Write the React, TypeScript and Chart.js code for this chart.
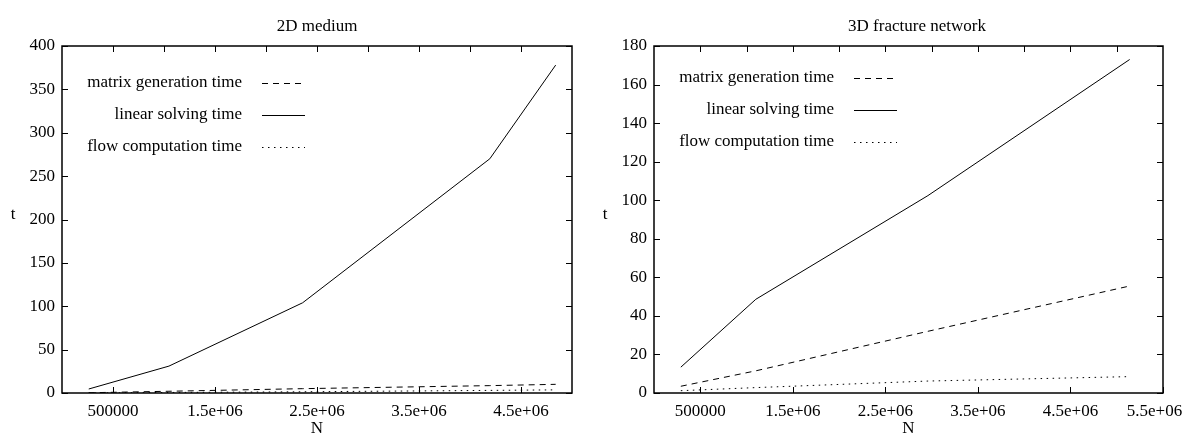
import React, { useEffect, useRef } from "react";
import { Chart, registerables } from "chart.js";

Chart.register(...registerables);

const FONT = "'Liberation Serif', 'Times New Roman', serif";

const seriesNames = ["matrix generation time", "linear solving time", "flow computation time"];
const seriesDash = [[6, 5], [], [1.5, 4.5]];

// 2D medium
const n2D = [262144, 1048576, 2359296, 4194304, 4840000];
const matrix2D = [0.3, 2, 5, 8.5, 10];
const linear2D = [4.6, 31, 104, 270, 378];
const flow2D = [0.1, 0.6, 1.4, 3, 3.6];

// 3D fracture network
const n3D = [290000, 1100000, 2960000, 5140000];
const matrix3D = [3.5, 11.5, 32, 55.5];
const linear3D = [13.4, 48.6, 102.4, 173];
const flow3D = [1.2, 2.8, 6.2, 8.5];

// ticks
const xLabelTicks2D = [500000, 1500000, 2500000, 3500000, 4500000];
const xLabelTicks3D = [500000, 1500000, 2500000, 3500000, 4500000, 5500000];
const xTopTicks2D = [500000, 1000000, 1500000, 2000000, 2500000, 3000000, 3500000, 4000000, 4500000];
const xTopTicks3D = [500000, 1000000, 1500000, 2000000, 2500000, 3000000, 3500000, 4000000, 4500000, 5000000];

function fmtN(v: number, xMax: number): string {
  if (v < 1000000) return String(v);
  const s = `${v / 1000000}e+06`;
  // last label sits at the plot corner; keep it inside the page like the reference
  return v >= xMax ? s + "    " : s;
}

function framePlugin(topTicks: number[], labelTicks: number[], legendOffset: number) {
  return {
    id: "frame",
    afterDatasetsDraw(chart: any) {
      const { ctx, chartArea } = chart;
      const { left, right, top, bottom } = chartArea;
      const xs = chart.scales.x;
      const ys = chart.scales.y;
      const TL = 6;
      ctx.save();
      ctx.strokeStyle = "#000";
      // ticks
      ctx.lineWidth = 1;
      ctx.beginPath();
      ys.ticks.forEach((t: any) => {
        const y = Math.round(ys.getPixelForValue(t.value)) + 0.5;
        ctx.moveTo(left, y);
        ctx.lineTo(left + TL, y);
        ctx.moveTo(right, y);
        ctx.lineTo(right - TL, y);
      });
      labelTicks.forEach((v) => {
        const x = Math.round(xs.getPixelForValue(v)) + 0.5;
        ctx.moveTo(x, bottom);
        ctx.lineTo(x, bottom - TL);
      });
      topTicks.forEach((v) => {
        const x = Math.round(xs.getPixelForValue(v)) + 0.5;
        ctx.moveTo(x, top);
        ctx.lineTo(x, top + TL);
      });
      ctx.stroke();
      // border
      ctx.lineWidth = 1.5;
      ctx.strokeRect(left, top, right - left, bottom - top);
      // legend
      ctx.font = `17px ${FONT}`;
      ctx.fillStyle = "#000";
      ctx.textAlign = "right";
      ctx.textBaseline = "middle";
      chart.data.datasets.forEach((ds: any, i: number) => {
        const y = top + legendOffset + i * 32;
        ctx.fillText(ds.label, left + 180, y);
        ctx.beginPath();
        ctx.lineWidth = 1;
        ctx.setLineDash(ds.borderDash || []);
        ctx.moveTo(left + 200, Math.round(y) + 0.5);
        ctx.lineTo(left + 243, Math.round(y) + 0.5);
        ctx.stroke();
        ctx.setLineDash([]);
      });
      // y axis label
      ctx.textAlign = "center";
      ctx.fillText("t", 13, (top + bottom) / 2 - 5);
      ctx.restore();
    },
  };
}

function makeConfig(
  title: string,
  ns: number[],
  series: number[][],
  xMax: number,
  yMax: number,
  yStep: number,
  labelTicks: number[],
  topTicks: number[],
  padRight: number,
  legendOffset: number
): any {
  const font = { family: FONT, size: 17, weight: "normal" as const };
  return {
    type: "line",
    data: {
      datasets: series.map((vals, i) => ({
        label: seriesNames[i],
        data: ns.map((x, j) => ({ x, y: vals[j] })),
        borderColor: "#000",
        borderWidth: 1,
        borderDash: seriesDash[i],
        pointRadius: 0,
        tension: 0,
        fill: false,
      })),
    },
    options: {
      animation: false,
      responsive: false,
      maintainAspectRatio: false,
      layout: { padding: { left: 0, right: padRight, top: 0, bottom: 0 } },
      plugins: {
        legend: { display: false },
        tooltip: { enabled: false },
        title: {
          display: true,
          text: title,
          color: "#000",
          font,
          fullSize: false,
          padding: { top: 16, bottom: 9.6 },
        },
      },
      scales: {
        x: {
          type: "linear",
          min: 0,
          max: xMax,
          border: { display: false },
          grid: { display: false, drawTicks: false },
          ticks: {
            padding: 8,
            color: "#000",
            font,
            autoSkip: false,
            maxRotation: 0,
            callback: (v: number) => fmtN(v, xMax),
          },
          afterBuildTicks: (s: any) => {
            s.ticks = labelTicks.map((v) => ({ value: v }));
          },
          afterFit: (s: any) => {
            s.height = 46;
            s.paddingLeft = 0;
            s.paddingRight = 0;
          },
          title: { display: true, text: "N", color: "#000", font, padding: { top: 0, bottom: 0 } },
        },
        y: {
          min: 0,
          max: yMax,
          border: { display: false },
          grid: { display: false, drawTicks: false },
          ticks: { stepSize: yStep, padding: 7, color: "#000", font },
          afterFit: (s: any) => {
            s.width = 62;
            s.paddingTop = 0;
            s.paddingBottom = 0;
          },
        },
      },
    },
    plugins: [framePlugin(topTicks, labelTicks, legendOffset)],
  };
}

function ChartCanvas({ config, width, height, left }: { config: any; width: number; height: number; left: number }) {
  const ref = useRef<HTMLCanvasElement | null>(null);
  useEffect(() => {
    if (!ref.current) return;
    const chart = new Chart(ref.current, config);
    return () => chart.destroy();
  }, [config]);
  return (
    <canvas
      ref={ref}
      width={width}
      height={height}
      style={{ position: "absolute", left, top: 0, width, height, display: "block" }}
    />
  );
}

const config2D = makeConfig(
  "2D medium",
  n2D,
  [matrix2D, linear2D, flow2D],
  5000000,
  400,
  50,
  xLabelTicks2D,
  xTopTicks2D,
  20,
  37
);
const config3D = makeConfig(
  "    3D fracture network",
  n3D,
  [matrix3D, linear3D, flow3D],
  5500000,
  180,
  20,
  xLabelTicks3D,
  xTopTicks3D,
  22,
  32
);

export default function App() {
  return (
    <div style={{ position: "absolute", left: 0, top: 0, width: 1185, height: 439, background: "#fff", overflow: "hidden" }}>
      <ChartCanvas config={config2D} width={592} height={439} left={0} />
      <ChartCanvas config={config3D} width={593} height={439} left={592} />
    </div>
  );
}
